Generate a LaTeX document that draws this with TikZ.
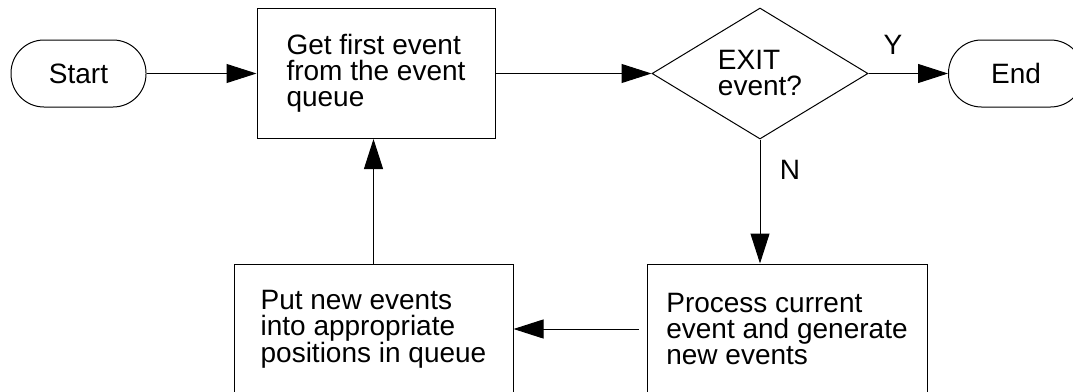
\documentclass[tikz,border=0pt]{standalone}
\usepackage{fontspec}
\setmainfont{Liberation Sans}
\usetikzlibrary{shapes.geometric,arrows.meta}
\begin{document}
\begin{tikzpicture}[x=1pt,y=-1pt,
  every node/.style={font=\fontsize{28}{26}\selectfont},
  stepbox/.style={draw, line width=1pt, minimum width=238pt, minimum height=130pt,
    align=left, inner sep=0pt},
  terminal/.style={draw, line width=1pt, rounded corners=33pt,
    minimum width=135pt, minimum height=67pt},
  decision/.style={diamond, draw, line width=1pt, minimum width=216pt,
    minimum height=131pt, align=left, inner sep=0pt},
  flow/.style={line width=1pt, -{Triangle[length=30pt,width=19pt]}},
  branch/.style={inner sep=0pt}
]
\clip (0,0) rectangle (1073,391);

% top row
\node[terminal] (start) at (78.5,73.5) {Start};
\node[stepbox] (get) at (376,73.5) {Get first event\\from the event\\queue};
\node[decision] (exit) at (760,73.5) {EXIT\\event?};
\node[terminal] (end) at (1016,73.5) {End};

% bottom row (boxes run past the lower edge)
\node[stepbox, minimum width=280pt] (process) at (787,329) {Process current\\event and generate\\new events};
\node[stepbox, minimum width=279pt] (put) at (373.5,329) {Put new events\\into appropriate\\positions in queue};

% branch labels
\node[branch] (yes) at (893,45) {Y};
\node[branch] (no) at (790,170) {N};

% connectors
\draw[flow] (start) -- (get);
\draw[flow] (get) -- (exit);
\draw[flow] (exit) -- (end);
\draw[flow] (exit.south) -- (exit.south |- process.north);
\draw[flow, shorten <=8pt] (process.west) -- (put.east);
\draw[flow] (put.north) -- (put.north |- get.south);
\end{tikzpicture}
\end{document}
